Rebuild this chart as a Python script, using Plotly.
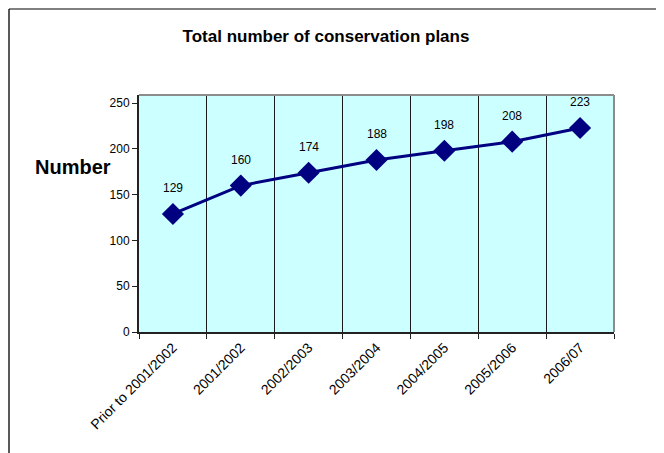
import plotly.graph_objects as go

categories = ["Prior to 2001/2002", "2001/2002", "2002/2003", "2003/2004",
              "2004/2005", "2005/2006", "2006/07"]
values = [129, 160, 174, 188, 198, 208, 223]
y_ticks = [0, 50, 100, 150, 200, 250]

# page body has an 8px margin; lay the figure out in reference pixels minus 8
OFF = 8
W, H = 664 - OFF, 453 - OFF
L, R, T, B = 139 - OFF, 50, 95 - OFF, 121
pw, ph = W - L - R, H - T - B

def px_x(px):
    return (px - OFF - L) / pw

def px_y(py):
    return (H - B - (py - OFF)) / ph

FONT = "Liberation Sans, Arial, sans-serif"
NAVY = "#000080"

fig = go.Figure()
fig.add_trace(go.Scatter(
    x=categories, y=values, mode="lines+markers",
    line=dict(color=NAVY, width=3),
    marker=dict(symbol="diamond", size=17, color=NAVY),
    cliponaxis=False, showlegend=False,
))

for c, v in zip(categories, values):
    fig.add_annotation(x=c, y=v, text=str(v), showarrow=False, yshift=26,
                       font=dict(family=FONT, size=12, color="black"))

fig.add_annotation(xref="paper", yref="paper", x=px_x(73), y=px_y(167),
                   xanchor="center", yanchor="middle",
                   text="<b>Number</b>", showarrow=False,
                   font=dict(family=FONT, size=20, color="black"))

# plot area top/right border (grey)
fig.add_shape(type="line", xref="paper", yref="paper", x0=0, x1=1, y0=1, y1=1,
              line=dict(color="#8c8c8c", width=2), layer="above")
fig.add_shape(type="line", xref="paper", yref="paper", x0=1, x1=1, y0=0, y1=1,
              line=dict(color="#8c8c8c", width=2), layer="above")
# outer frame lines
fig.add_shape(type="line", xref="paper", yref="paper", x0=px_x(9), x1=px_x(664),
              y0=px_y(9), y1=px_y(9), line=dict(color="#808080", width=2))
fig.add_shape(type="line", xref="paper", yref="paper", x0=px_x(9), x1=px_x(9),
              y0=px_y(9), y1=px_y(453), line=dict(color="#222222", width=1.5))

fig.update_layout(
    width=W, height=H,
    margin=dict(l=L, r=R, t=T, b=B),
    paper_bgcolor="white", plot_bgcolor="#CCFFFF",
    title=dict(text="<b>Total number of conservation plans</b>",
               x=(326 - OFF) / W, xanchor="center", y=1 - (36 - OFF) / H,
               yanchor="middle",
               font=dict(family=FONT, size=17, color="black")),
    font=dict(family=FONT, color="black"),
)
fig.update_xaxes(
    type="category", tickson="boundaries", showgrid=True,
    gridcolor="#1a1a1a", gridwidth=1,
    showline=True, linecolor="#222222", linewidth=2,
    ticks="outside", ticklen=5, tickcolor="#222222",
    tickangle=-45, tickfont=dict(family=FONT, size=14, color="black"),
    range=[-0.5, 6.5], zeroline=False,
)
fig.update_yaxes(
    range=[0, 259], tickvals=y_ticks, showgrid=False, zeroline=False,
    showline=True, linecolor="#222222", linewidth=2,
    ticks="outside", ticklen=5, tickcolor="#222222",
    tickfont=dict(family=FONT, size=12, color="black"),
)

fig.write_html("out.html")
